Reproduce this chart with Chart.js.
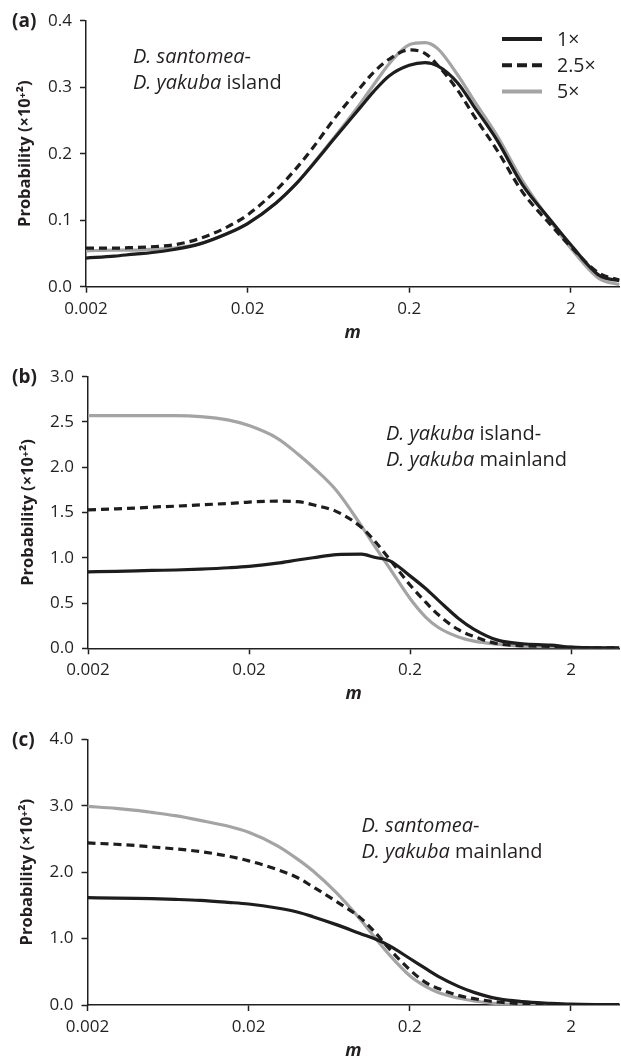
<!DOCTYPE html>
<html>
<head>
<meta charset="utf-8">
<script src="https://cdn.jsdelivr.net/npm/chart.js@4.4.1/dist/chart.umd.min.js"></script>
<style>
  body { margin: 0; background: #fff; }
  #wrap { position: relative; width: 621px; height: 1059px; }
  .painel { position: absolute; left: 0; width: 621px; }
</style>
</head>
<body>
<div id="wrap">
  <div class="painel" style="top:0;height:345px"><canvas id="grafico_a"></canvas></div>
  <div class="painel" style="top:345px;height:360px"><canvas id="grafico_b"></canvas></div>
  <div class="painel" style="top:705px;height:354px"><canvas id="grafico_c"></canvas></div>
</div>
<script>
// valores de m (eixo x, escala log)
const valoresM = [0.002, 0.003, 0.004, 0.005, 0.007, 0.01, 0.015, 0.02, 0.03, 0.04, 0.05, 0.07,
                  0.1, 0.12, 0.15, 0.2, 0.25, 0.3, 0.4, 0.5, 0.7, 1, 1.5, 2, 3, 4]
const ticksM = [0.002, 0.02, 0.2, 2]
const rotulosM = ['0.002', '0.02', '0.2', '2']
const legendas = ['1×', '2.5×', '5×']

// (a) D. santomea - D. yakuba island
const a_1x  = [0.043, 0.046, 0.049, 0.051, 0.056, 0.064, 0.080, 0.095, 0.126, 0.155, 0.182, 0.225,
               0.270, 0.293, 0.317, 0.333, 0.337, 0.332, 0.306, 0.272, 0.220, 0.154, 0.100, 0.063, 0.017, 0.009]
const a_25x = [0.058, 0.058, 0.059, 0.060, 0.063, 0.072, 0.090, 0.108, 0.145, 0.178, 0.207, 0.255,
               0.300, 0.322, 0.342, 0.356, 0.351, 0.333, 0.295, 0.258, 0.205, 0.143, 0.093, 0.060, 0.020, 0.010]
const a_5x  = [0.054, 0.055, 0.055, 0.056, 0.058, 0.064, 0.080, 0.095, 0.126, 0.155, 0.183, 0.227,
               0.276, 0.303, 0.335, 0.364, 0.367, 0.358, 0.318, 0.281, 0.227, 0.160, 0.098, 0.058, 0.012, 0.003]
const a_ticksY = [0, 0.1, 0.2, 0.3, 0.4]

// (b) D. yakuba island - D. yakuba mainland
const b_1x  = [0.845, 0.85, 0.855, 0.86, 0.865, 0.875, 0.89, 0.905, 0.94, 0.975, 1.00, 1.035,
               1.04, 1.005, 0.965, 0.80, 0.66, 0.53, 0.33, 0.21, 0.09, 0.05, 0.035, 0.012, 0.005, 0.005]
const b_25x = [1.53, 1.54, 1.55, 1.56, 1.57, 1.585, 1.60, 1.615, 1.625, 1.62, 1.585, 1.51,
               1.335, 1.19, 0.98, 0.70, 0.51, 0.37, 0.205, 0.13, 0.05, 0.03, 0.02, 0.01, 0.005, 0.004]
const b_5x  = [2.57, 2.57, 2.57, 2.57, 2.57, 2.56, 2.52, 2.46, 2.32, 2.15, 2.00, 1.74,
               1.35, 1.135, 0.88, 0.55, 0.345, 0.23, 0.125, 0.08, 0.045, 0.02, 0.008, 0.004, 0.002, 0.002]
const b_ticksY = [0, 0.5, 1.0, 1.5, 2.0, 2.5, 3.0]

// (c) D. santomea - D. yakuba mainland
const c_1x  = [1.615, 1.61, 1.605, 1.60, 1.59, 1.575, 1.545, 1.52, 1.46, 1.40, 1.33, 1.21,
               1.07, 1.00, 0.89, 0.70, 0.55, 0.43, 0.28, 0.19, 0.095, 0.05, 0.025, 0.012, 0.006, 0.005]
const c_25x = [2.44, 2.42, 2.40, 2.38, 2.35, 2.31, 2.24, 2.17, 2.04, 1.92, 1.78, 1.56,
               1.30, 1.11, 0.84, 0.53, 0.34, 0.25, 0.145, 0.095, 0.045, 0.02, 0.008, 0.004, 0.002, 0.002]
const c_5x  = [2.99, 2.96, 2.93, 2.90, 2.85, 2.78, 2.69, 2.60, 2.40, 2.20, 2.02, 1.69,
               1.27, 1.03, 0.75, 0.44, 0.28, 0.19, 0.105, 0.06, 0.02, 0.006, 0.003, 0.002, 0.001, 0.001]
const c_ticksY = [0, 1.0, 2.0, 3.0, 4.0]

const corPreta = '#1e1c1d'
const corCinza = '#a4a4a4'
const corTexto = '#231f20'
const fonte = '"Open Sans", sans-serif'

function serie(nome, valores, cor, tracejado) {
    return {
        label: nome,
        data: valoresM.map((m, i) => ({ x: m, y: valores[i] })),
        borderColor: cor,
        borderWidth: 3.2,
        borderDash: tracejado,
        pointRadius: 0,
        cubicInterpolationMode: 'monotone',
        fill: false
    }
}

// textos dentro do grafico: rotulo do painel, nota das especies e legenda
const textos = {
    id: 'textos',
    afterDraw(chart, args, opts) {
        const ctx = chart.ctx
        ctx.save()
        ctx.fillStyle = corTexto
        ctx.textBaseline = 'middle'
        ctx.font = 'bold 19px ' + fonte
        ctx.fillText(opts.rotulo, 12, chart.chartArea.top + 1)

        ctx.textBaseline = 'alphabetic'
        opts.nota.forEach((linha, i) => {
            let x = opts.notaX
            const y = opts.notaY + i * 25.5
            linha.forEach(parte => {
                ctx.font = (parte.it ? 'italic ' : '') + '20px ' + fonte
                ctx.fillText(parte.t, x, y)
                x += ctx.measureText(parte.t).width
            })
        })

        if (opts.legenda) {
            chart.data.datasets.forEach((ds, i) => {
                const y = 39 + i * 26.3
                ctx.strokeStyle = ds.borderColor
                ctx.lineWidth = 4
                ctx.setLineDash(ds.borderDash.length ? [10, 5] : [])
                ctx.beginPath()
                ctx.moveTo(502, y)
                ctx.lineTo(542, y)
                ctx.stroke()
                ctx.setLineDash([])
                ctx.textBaseline = 'middle'
                ctx.font = '19.5px ' + fonte
                ctx.fillText(ds.label, 557, y + 1)
            })
        }
        ctx.restore()
    }
}

function criarPainel(id, p) {
    return new Chart(document.getElementById(id), {
        type: 'line',
        data: {
            datasets: [
                serie(legendas[0], p.s1, corPreta, []),
                serie(legendas[1], p.s25, corPreta, [8, 5]),
                serie(legendas[2], p.s5, corCinza, [])
            ]
        },
        options: {
            responsive: true,
            maintainAspectRatio: false,
            animation: false,
            layout: { padding: { top: p.topo, right: 1.5, left: 0, bottom: 0 } },
            plugins: {
                legend: { display: false },
                tooltip: { enabled: false },
                textos: { rotulo: p.rotulo, nota: p.nota, notaX: p.notaX, notaY: p.notaY, legenda: p.legenda }
            },
            scales: {
                x: {
                    type: 'logarithmic',
                    min: 0.002,
                    max: 4,
                    afterBuildTicks: s => { s.ticks = ticksM.map(v => ({ value: v })) },
                    afterFit: s => { s.height = p.alturaX },
                    ticks: {
                        autoSkip: false,
                        maxRotation: 0,
                        padding: 6,
                        color: corTexto,
                        font: { family: fonte, size: 17 },
                        callback: (v, i) => rotulosM[i]
                    },
                    grid: { drawOnChartArea: false, tickLength: 6, tickWidth: 1.5, tickColor: corTexto },
                    border: { color: corTexto, width: 1.5 },
                    title: {
                        display: true,
                        text: 'm',
                        color: corTexto,
                        font: { family: fonte, size: 18, weight: 'bold', style: 'italic' },
                        padding: { top: 0, bottom: p.tituloX }
                    }
                },
                y: {
                    min: 0,
                    max: p.ticksY[p.ticksY.length - 1],
                    afterBuildTicks: s => { s.ticks = p.ticksY.map(v => ({ value: v })) },
                    afterFit: s => { s.width = p.esquerda },
                    ticks: {
                        padding: 8,
                        color: corTexto,
                        font: { family: fonte, size: 17 },
                        callback: v => v.toFixed(1)
                    },
                    grid: { drawOnChartArea: false, tickLength: 6, tickWidth: 1.5, tickColor: corTexto },
                    border: { color: corTexto, width: 1.5 },
                    title: {
                        display: true,
                        text: 'Probability (×10⁺²)',
                        color: corTexto,
                        font: { family: fonte, size: 16.5, weight: 'bold' },
                        padding: { top: p.tituloY, bottom: 0 }
                    }
                }
            }
        },
        plugins: [textos]
    })
}

criarPainel('grafico_a', {
    s1: a_1x, s25: a_25x, s5: a_5x, ticksY: a_ticksY,
    topo: 20.7, alturaX: 58.3, esquerda: 86, tituloX: 1.7, tituloY: 15.6,
    rotulo: '(a)', legenda: true,
    notaX: 133, notaY: 63,
    nota: [[{ t: 'D. santomea', it: true }, { t: '-' }],
           [{ t: 'D. yakuba', it: true }, { t: ' island' }]]
})

criarPainel('grafico_b', {
    s1: b_1x, s25: b_25x, s5: b_5x, ticksY: b_ticksY,
    topo: 31.7, alturaX: 56.7, esquerda: 88, tituloX: 0, tituloY: 18,
    rotulo: '(b)', legenda: false,
    notaX: 386, notaY: 95,
    nota: [[{ t: 'D. yakuba', it: true }, { t: ' island-' }],
           [{ t: 'D. yakuba', it: true }, { t: ' mainland' }]]
})

criarPainel('grafico_c', {
    s1: c_1x, s25: c_25x, s5: c_5x, ticksY: c_ticksY,
    topo: 34.3, alturaX: 54, esquerda: 87.5, tituloX: -2.8, tituloY: 17,
    rotulo: '(c)', legenda: false,
    notaX: 361.5, notaY: 127,
    nota: [[{ t: 'D. santomea', it: true }, { t: '-' }],
           [{ t: 'D. yakuba', it: true }, { t: ' mainland' }]]
})
</script>
</body>
</html>
